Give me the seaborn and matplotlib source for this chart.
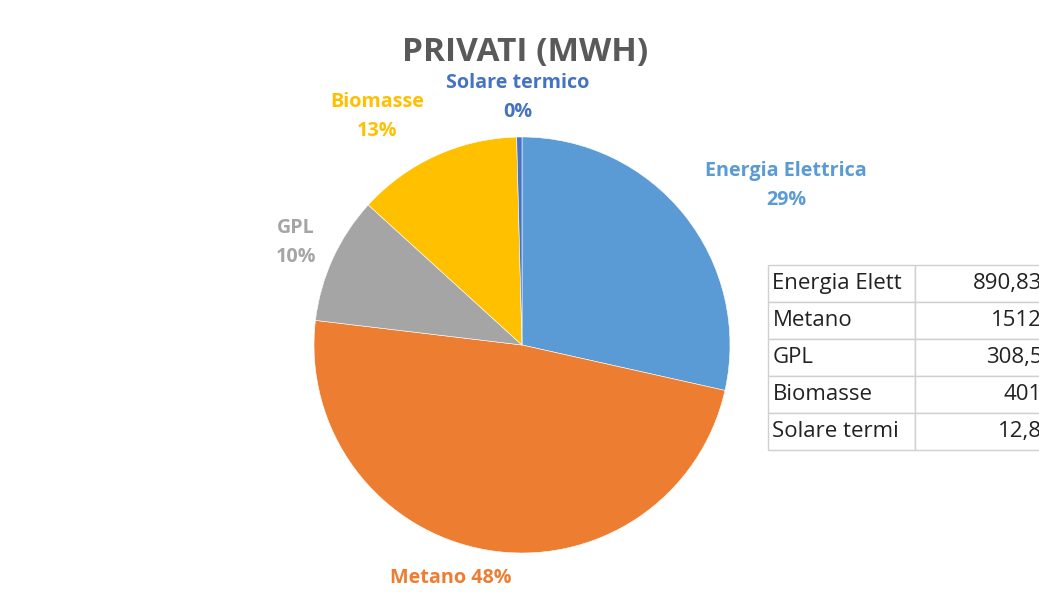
import numpy as np
import matplotlib
matplotlib.use("Agg")
import matplotlib.pyplot as plt
import seaborn as sns

# dati
categorie = ["Energia Elettrica", "Metano", "GPL", "Biomasse", "Solare termico"]
valori = [890.83, 1512, 308.5, 401, 12.8]
colori = ["#5B9BD5", "#ED7D31", "#A5A5A5", "#FFC000", "#4472C4"]
righe_tabella = ["Energia Elett", "Metano", "GPL", "Biomasse", "Solare termi"]
valori_tabella = ["890,83", "1512", "308,5", "401", "12,8"]

sns.set_theme(style="white")
plt.rcParams['font.family'] = ['Open Sans', 'DejaVu Sans']

W, H = 1039, 604
fig = plt.figure(figsize=(W / 100, H / 100), dpi=100)

# pie: centro (522,345) px, raggio 208 px
cx, cy, r = 522, 345, 208
ax = fig.add_axes([(cx - r) / W, 1 - (cy + r) / H, 2 * r / W, 2 * r / H])
ax.pie(valori, colors=colori, startangle=90, counterclock=False, radius=1,
       wedgeprops=dict(linewidth=0.4, edgecolor="white"))
ax.set_xlim(-1, 1)
ax.set_ylim(-1, 1)
ax.set_aspect("equal")
ax.axis("off")

tot = sum(valori)
perc = [round(v / tot * 100) for v in valori]

def ptext(x, y, s, col, size=14.2):
    fig.text(x / W, 1 - y / H, s, ha="center", va="center", color=col,
             fontsize=size, fontweight="bold")

fig.text(525 / W, 1 - 52 / H, "PRIVATI (MWH)", ha="center", va="center",
         color="#595959", fontsize=24, fontweight="bold")

ptext(786, 171, categorie[0], colori[0])
ptext(786, 200, f"{perc[0]}%", colori[0])
ptext(451, 578, f"{categorie[1]} {perc[1]}%", colori[1])
ptext(296, 228, categorie[2], colori[2])
ptext(296, 257, f"{perc[2]}%", colori[2])
ptext(377, 102, categorie[3], colori[3])
ptext(377, 131, f"{perc[3]}%", colori[3])
ptext(518, 83, categorie[4], colori[4])
ptext(518, 112, f"{perc[4]}%", colori[4])

# tabella
x0, x1, y0, y1 = 768, 1046, 265, 450
tax = fig.add_axes([x0 / W, 1 - y1 / H, (x1 - x0) / W, (y1 - y0) / H])
tax.axis("off")
tab = tax.table(cellText=[[a, b] for a, b in zip(righe_tabella, valori_tabella)],
                bbox=[0, 0, 1, 1], colWidths=[147, x1 - x0 - 147],
                cellLoc="left")
tab.auto_set_font_size(False)
for (i, j), cell in tab.get_celld().items():
    cell.set_edgecolor("#D0D0D0")
    cell.set_linewidth(1.0)
    cell.get_text().set_fontsize(16)
    cell.get_text().set_color("#222222")
    if j == 1:
        cell.get_text().set_ha("right")
        cell.PAD = 0.03
    else:
        cell.PAD = 0.03

fig.savefig("out.png", dpi=100, facecolor="white")
